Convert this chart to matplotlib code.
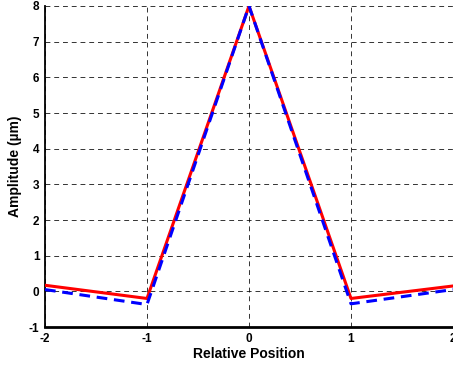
import matplotlib
matplotlib.use("Agg")
import matplotlib.pyplot as plt

x = [-2, -1, 0, 1, 2]
red = [0.17, -0.2, 8.0, -0.2, 0.15]
blue = [0.05, -0.37, 8.0, -0.35, 0.05]
xticks = [-2, -1, 0, 1, 2]
yticks = [-1, 0, 1, 2, 3, 4, 5, 6, 7, 8]

plt.rcParams['font.family'] = ['Liberation Sans', 'DejaVu Sans']
fig = plt.figure(figsize=(4.53, 3.68), dpi=100)
ax = fig.add_axes([0.0993, 0.1114, 0.9007, 0.8723])
ax.plot(x, red, color='red', lw=2.2, zorder=3)
ax.plot(x, blue, color='blue', lw=2.2, ls=(0, (3.5, 2.2)), zorder=4)
ax.set_xlim(-2, 2)
ax.set_ylim(-1, 8)
ax.set_xticks(xticks)
ax.set_yticks(yticks)
ax.set_xticklabels([str(v) for v in xticks], fontweight='bold', fontsize=8.5)
ax.set_yticklabels([str(v) for v in yticks], fontweight='bold', fontsize=8.5)
ax.grid(True, color='black', ls=(0, (5, 4)), lw=0.7, alpha=0.8)
ax.tick_params(length=0, pad=4)
ax.spines['top'].set_visible(False)
ax.spines['right'].set_visible(False)
ax.spines['left'].set_linewidth(1.3)
ax.spines['bottom'].set_linewidth(2)
ax.set_xlabel('Relative Position', fontweight='bold', fontsize=10, labelpad=2)
ax.set_ylabel('Amplitude (µm)', fontweight='bold', fontsize=10, labelpad=5)
fig.savefig('out.png', dpi=100)
